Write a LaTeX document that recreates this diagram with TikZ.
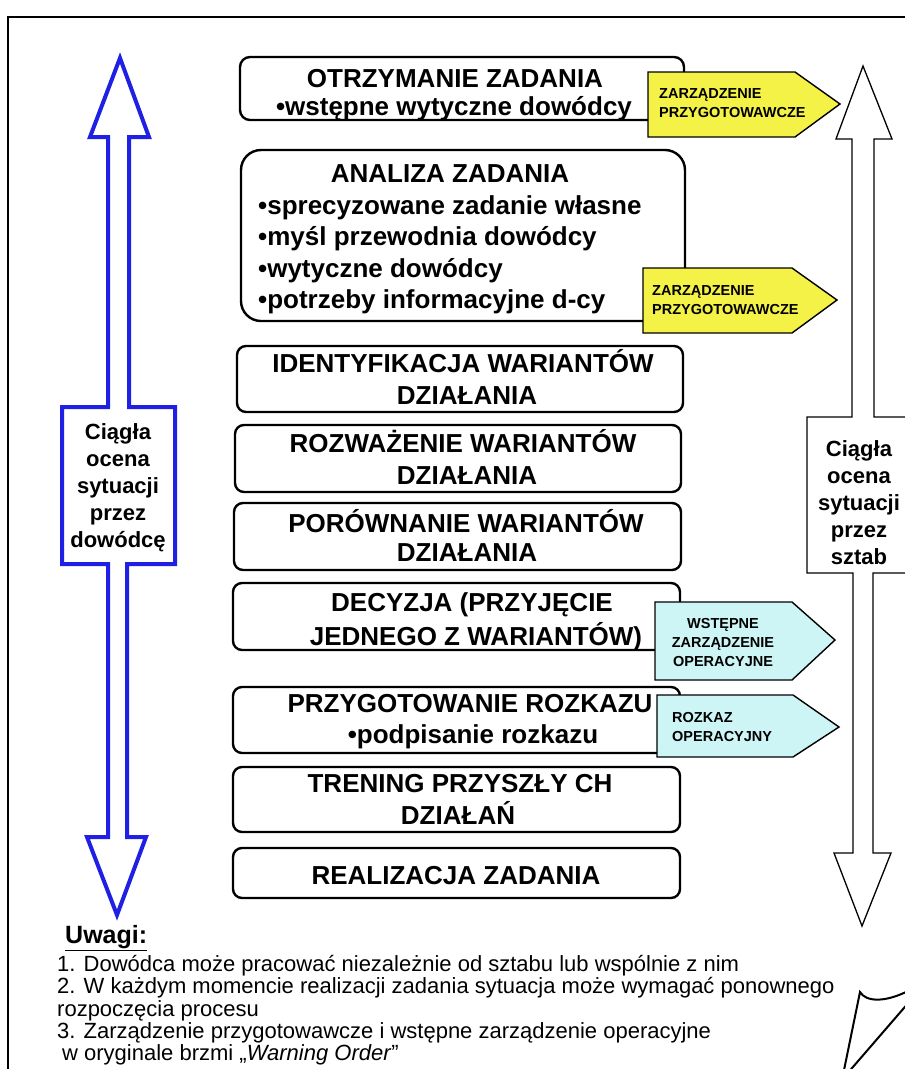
\documentclass[tikz,border=0pt]{standalone}
\usepackage{fontspec}
\setmainfont{Liberation Sans}
\definecolor{arrowblue}{RGB}{32,32,228}
\definecolor{prepyellow}{RGB}{244,242,70}
\definecolor{opcyan}{RGB}{206,245,245}
\begin{document}
\begin{tikzpicture}[x=1pt,y=-1pt,
  stage/.style={draw=black, line width=2.4pt, fill=white, rounded corners=9pt, inner sep=0pt},
  head/.style={font=\fontsize{26}{31}\selectfont\bfseries, inner sep=0pt, anchor=base},
  bul/.style={head, anchor=base west},
  side/.style={font=\fontsize{22}{27}\selectfont\bfseries, align=center, inner sep=0pt},
  tag/.style={font=\fontsize{14.5}{19}\selectfont\bfseries, inner sep=0pt},
  tagshape/.style={draw=black, line width=1.4pt, line join=miter},
  note/.style={font=\fontsize{22}{22}\selectfont, inner sep=0pt, anchor=base west},
]
\useasboundingbox (0,0) rectangle (905,1069);
\clip (0,0) rectangle (905,1069);
\fill[white] (0,0) rectangle (905,1069);

% outer frame
\draw[line width=2.4pt] (8,1075) -- (8,17) -- (910,17);

% left double block arrow: commander
\draw[arrowblue, line width=4pt, line join=miter, fill=white]
  (120,58) -- (149,137) -- (129,137) -- (129,407) -- (175,407) -- (175,564)
  -- (127,564) -- (127,837) -- (146,837) -- (117,915) -- (87,837) -- (108,837)
  -- (108,564) -- (62,564) -- (62,407) -- (108,407) -- (108,137) -- (90,137) -- cycle;
\node[side] (lside) at (118,488) {Ciągła\\ocena\\sytuacji\\przez\\dowódcę};

% right double block arrow: staff
\draw[black, line width=1.3pt, line join=miter, fill=white]
  (863,66) -- (892,139) -- (874,139) -- (874,417) -- (919,417) -- (919,573)
  -- (873,573) -- (873,853) -- (891,853) -- (862,926) -- (834,853) -- (853,853)
  -- (853,573) -- (807,573) -- (807,417) -- (852,417) -- (852,139) -- (836,139) -- cycle;
\node[side] (rside) at (859,503) {Ciągła\\ocena\\sytuacji\\przez\\sztab};

% process stages
\node[stage, rounded corners=10pt, minimum width=444pt, minimum height=63pt] (s1) at (462,88.5) {};
\node[stage, rounded corners=20pt, minimum width=444pt, minimum height=171pt] (s2) at (463,235.5) {};
\node[stage, minimum width=446pt, minimum height=66pt] (s3) at (460,379) {};
\node[stage, minimum width=446pt, minimum height=67pt] (s4) at (458,458.5) {};
\node[stage, minimum width=447pt, minimum height=67pt] (s5) at (457.5,536.5) {};
\node[stage, minimum width=447pt, minimum height=67pt] (s6) at (456.5,616.5) {};
\node[stage, minimum width=447pt, minimum height=66pt] (s7) at (456.5,720) {};
\node[stage, minimum width=447pt, minimum height=65pt] (s8) at (456.5,799.5) {};
\node[stage, minimum width=447pt, minimum height=50pt] (s9) at (456.5,873) {};

\node[head] (t1a) at (455,87) {OTRZYMANIE ZADANIA};
\node[head] (t1b) at (454,115) {•wstępne wytyczne dowódcy};

\node[head] (t2a) at (450,182) {ANALIZA ZADANIA};
\node[bul] (t2b) at (258,214) {•sprecyzowane zadanie własne};
\node[bul] (t2c) at (258,245.5) {•myśl przewodnia dowódcy};
\node[bul] (t2d) at (258,277) {•wytyczne dowódcy};
\node[bul] (t2e) at (258,308.5) {•potrzeby informacyjne d-cy};

\node[head] (t3a) at (463,372) {IDENTYFIKACJA WARIANTÓW};
\node[head] (t3b) at (467,404) {DZIAŁANIA};
\node[head] (t4a) at (463,452) {ROZWAŻENIE WARIANTÓW};
\node[head] (t4b) at (467,484) {DZIAŁANIA};
\node[head] (t5a) at (466,532) {PORÓWNANIE WARIANTÓW};
\node[head] (t5b) at (467,561) {DZIAŁANIA};
\node[head] (t6a) at (472,611) {DECYZJA (PRZYJĘCIE};
\node[head] (t6b) at (476,645) {JEDNEGO Z WARIANTÓW)};
\node[head] (t7a) at (470,712) {PRZYGOTOWANIE ROZKAZU};
\node[head] (t7b) at (473,743) {•podpisanie rozkazu};
\node[head] (t8a) at (460,792) {TRENING PRZYSZŁY CH};
\node[head] (t8b) at (458,824) {DZIAŁAŃ};
\node[head] (t9a) at (456,884) {REALIZACJA ZADANIA};

% orders issued along the way
\draw[tagshape, fill=prepyellow] (648,72) -- (795,72) -- (840,104) -- (795,137) -- (648,137) -- cycle;
\node[tag, align=left, anchor=west] (o1) at (659,103) {ZARZĄDZENIE\\PRZYGOTOWAWCZE};
\draw[tagshape, fill=prepyellow] (643,268) -- (792,268) -- (837,300) -- (792,333) -- (643,333) -- cycle;
\node[tag, align=left, anchor=west] (o2) at (652,300) {ZARZĄDZENIE\\PRZYGOTOWAWCZE};
\draw[tagshape, fill=opcyan] (655,602) -- (792,602) -- (835,640) -- (792,680) -- (655,680) -- cycle;
\node[tag, align=center] (o3) at (723,642) {WSTĘPNE\\ZARZĄDZENIE\\OPERACYJNE};
\draw[tagshape, fill=opcyan] (657,695) -- (793,695) -- (839,727) -- (793,757) -- (657,757) -- cycle;
\node[tag, align=left, anchor=west] (o4) at (672,727) {ROZKAZ\\OPERACYJNY};

% remarks
\node[inner sep=0pt, anchor=base west, font=\fontsize{25}{25}\selectfont\bfseries] (uw) at (65,943) {\underline{Uwagi:}};
\node[note] (n1) at (57,971) {1. Dowódca może pracować niezależnie od sztabu lub wspólnie z nim};
\node[note] (n2) at (57,993.5) {2. W każdym momencie realizacji zadania sytuacja może wymagać ponownego};
\node[note] (n3) at (57,1016) {rozpoczęcia procesu};
\node[note] (n4) at (57,1038) {3. Zarządzenie przygotowawcze i wstępne zarządzenie operacyjne};
\node[note] (n5) at (62,1060) {w oryginale brzmi „\textit{Warning Order}”};

% corner fragment
\draw[line width=2pt, line join=miter] (843,1075) -- (860,992)
  .. controls (866,1002) and (885,1003) .. (910,990);
\draw[line width=2pt] (910,1001) -- (846,1075);
\end{tikzpicture}
\end{document}
